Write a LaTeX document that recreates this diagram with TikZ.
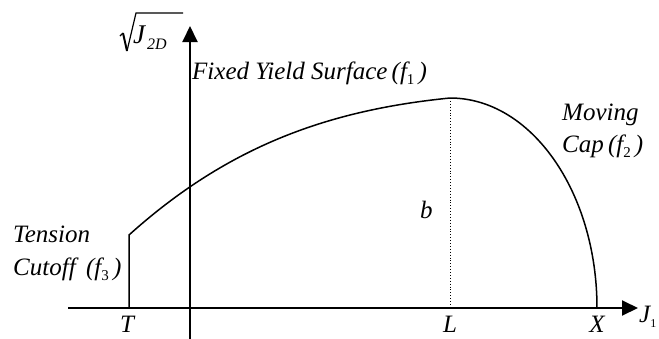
\documentclass[tikz,border=0pt]{standalone}
\usepackage{fontspec}
\setmainfont{Liberation Serif}
\usetikzlibrary{arrows.meta}
\newcommand\lblfont{\fontsize{25}{29}\selectfont\itshape}
\newcommand\subsc[1]{\raisebox{-0.45ex}{\fontsize{15}{15}\selectfont\upshape #1}}
\newcommand\subit[1]{\raisebox{-0.5ex}{\fontsize{16}{16}\selectfont\itshape #1}}
\tikzset{
  axis/.style={line width=2pt, -{Triangle[length=16pt,width=15pt]}},
  surf/.style={line width=1.5pt},
  radical/.style={line width=1.2pt, line join=miter},
  lbl/.style={inner sep=0pt, font=\lblfont},
}
\begin{document}
\begin{tikzpicture}[x=1pt,y=-1pt]
\useasboundingbox (0,0) rectangle (659,338);
% key points
\coordinate (xs) at (68,308);
\coordinate (xe) at (638,308);
\coordinate (ys) at (190,340);
\coordinate (ye) at (190,26);
\coordinate (T0) at (129,308);
\coordinate (T1) at (129,235);
\coordinate (P) at (450,98);
\coordinate (L0) at (450,308);
\coordinate (X0) at (597,308);
% axes
\draw[axis] (xs) -- (xe);
\draw[axis] (ys) -- (ye);
% surfaces
\draw[surf, line join=miter] (T0) -- (T1)
  .. controls (229,145) and (330,110) .. (P)
  arc[start angle=-90, end angle=0, x radius=147, y radius=210];
\draw[dotted, line width=0.9pt] (P) -- (L0);
% y-axis label: radical sign
\coordinate (r0) at (120,36);
\coordinate (r1) at (123,33);
\coordinate (r2) at (127,51);
\coordinate (r3) at (136,13);
\coordinate (r4) at (183,13);
\draw[radical] (r0) -- (r1);
\draw[radical, line width=2pt] (r1) -- (r2);
\draw[radical] (r2) -- (r3) -- (r4);
\node[lbl, anchor=base west, font=\fontsize{27}{30}\selectfont\itshape] (ylab) at (133,43) {J\hspace{2pt}\subit{2D}};
% labels
\node[lbl, anchor=base west] (f1) at (192,79) {Fixed Yield Surface\,(f\subsc{1}\,)};
\node[lbl, anchor=base west] (mov) at (562,120) {Moving};
\node[lbl, anchor=base west] (cap) at (562,152) {Cap\,(f\subsc{2}\,)};
\node[lbl, anchor=base west] (b) at (420,218) {b};
\node[lbl, anchor=base west] (ten) at (13,242) {Tension};
\node[lbl, anchor=base west] (cut) at (13,275) {Cutoff \,(f\subsc{3}\,)};
\node[lbl, anchor=base] (Tl) at (127,332) {T};
\node[lbl, anchor=base] (Ll) at (450,332) {L};
\node[lbl, anchor=base] (Xl) at (597,332) {X};
\node[lbl, anchor=base west] (J1) at (639,322) {J\raisebox{-0.45ex}{\fontsize{12}{12}\selectfont\upshape 1}};
\end{tikzpicture}
\end{document}
